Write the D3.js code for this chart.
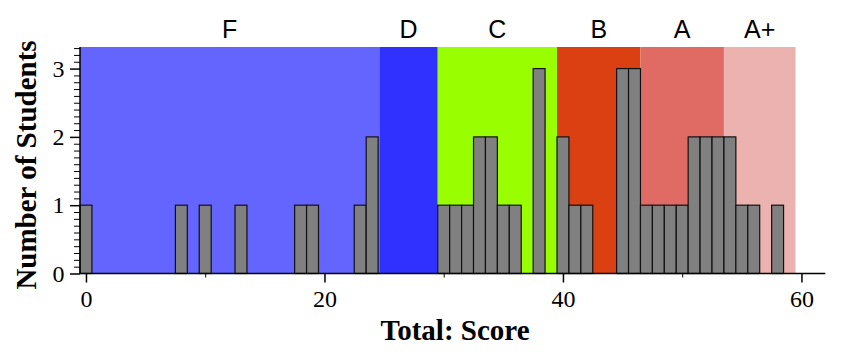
<!DOCTYPE html>
<html><head><meta charset="utf-8">
<script src="https://cdn.jsdelivr.net/npm/d3@7"></script>
<style>body{margin:0;background:#fff}svg{display:block}</style>
</head><body>
<svg id="c" width="842" height="355"></svg>
<script>
const scores = [0,8,10,13,18,19,23,24,30,31,32,33,34,35,36,38,40,41,42,45,46,47,48,49,50,51,52,53,54,55,56,58];
const counts = [1,1,1,1,1,1,1,2,1,1,1,2,2,1,1,3,2,1,1,3,3,1,1,1,1,2,2,2,2,1,1,1];
const gradeLabels = ["F","D","C","B","A","A+"];
const gradeStarts = [-0.5,24.6,29.5,39.5,46.5,53.5];
const gradeEnds = [24.6,29.5,39.5,46.5,53.5,59.5];
const gradeColors = ["#6464ff","#3030ff","#99ff00","#da4011","#e06a64","#ecb2b0"];
const xTicks = [0,20,40,60];
const yTicks = [0,1,2,3];

const svg = d3.select("#c");
const x = d3.scaleLinear().domain([-0.5, 62]).range([80, 825.3]);
const y = d3.scaleLinear().domain([0, 3.316]).range([273.5, 47]);

// grade bands
svg.append("g").selectAll("rect").data(gradeLabels).join("rect")
  .attr("x", (d,i)=>x(gradeStarts[i])).attr("width",(d,i)=>x(gradeEnds[i])-x(gradeStarts[i]))
  .attr("y", y(3.316)).attr("height", y(0)-y(3.316))
  .attr("fill",(d,i)=>gradeColors[i]);
svg.append("g").selectAll("text").data(gradeLabels).join("text")
  .attr("x",(d,i)=>(x(gradeStarts[i])+x(gradeEnds[i]))/2).attr("y",38)
  .attr("text-anchor","middle").attr("font-family","Liberation Sans, Arial, sans-serif")
  .attr("font-size",25).attr("fill","#000").text(d=>d);

// bars
svg.append("g").selectAll("rect").data(scores).join("rect")
  .attr("x",d=>x(d-0.5)).attr("width",d=>x(d+0.5)-x(d-0.5))
  .attr("y",(d,i)=>y(counts[i])).attr("height",(d,i)=>y(0)-y(counts[i]))
  .attr("fill","#808080").attr("stroke","#111").attr("stroke-width",1.2);

// x axis
const gx = svg.append("g").attr("transform",`translate(0,${y(0)})`);
gx.append("line").attr("x1",x(-0.5)).attr("x2",x(62)).attr("stroke","#000").attr("stroke-width",1.5);
gx.call(d3.axisBottom(x).tickValues(xTicks).tickSize(9).tickFormat(d3.format("d")))
  .call(g=>g.select(".domain").remove())
  .call(g=>g.selectAll("text").attr("font-family","Liberation Serif, Times New Roman, serif").attr("font-size",24).attr("fill","#000").attr("dy","0.9em"))
  .call(g=>g.selectAll("line").attr("stroke-width",1.5));
gx.append("g").call(d3.axisBottom(x).tickValues([10,30,50]).tickSize(4).tickFormat(""))
  .call(g=>g.select(".domain").remove());

// y axis
const gy = svg.append("g").attr("transform",`translate(${x(-0.5)},0)`);
gy.append("line").attr("y1",y(0)).attr("y2",y(3.316)).attr("stroke","#000").attr("stroke-width",1.5);
gy.call(d3.axisLeft(y).tickValues(yTicks).tickSize(10).tickFormat(d3.format("d")))
  .call(g=>g.select(".domain").remove())
  .call(g=>g.selectAll("text").attr("font-family","Liberation Serif, Times New Roman, serif").attr("font-size",24).attr("fill","#000").attr("dx","-0.1em"))
  .call(g=>g.selectAll("line").attr("stroke-width",1.5));
const minor = d3.range(1,34).map(i=>i/10).filter(v=>Math.abs(v-Math.round(v))>0.01);
gy.append("g").call(d3.axisLeft(y).tickValues(minor).tickSize(6).tickFormat(""))
  .call(g=>g.select(".domain").remove());

// axis titles
svg.append("text").attr("x",455).attr("y",340).attr("text-anchor","middle")
  .attr("font-family","Liberation Serif, Times New Roman, serif").attr("font-weight","bold")
  .attr("font-size",29).text("Total: Score");
svg.append("text").attr("transform","translate(36,165) rotate(-90)").attr("text-anchor","middle")
  .attr("font-family","Liberation Serif, Times New Roman, serif").attr("font-weight","bold")
  .attr("font-size",29).text("Number of Students");
</script>
</body></html>
